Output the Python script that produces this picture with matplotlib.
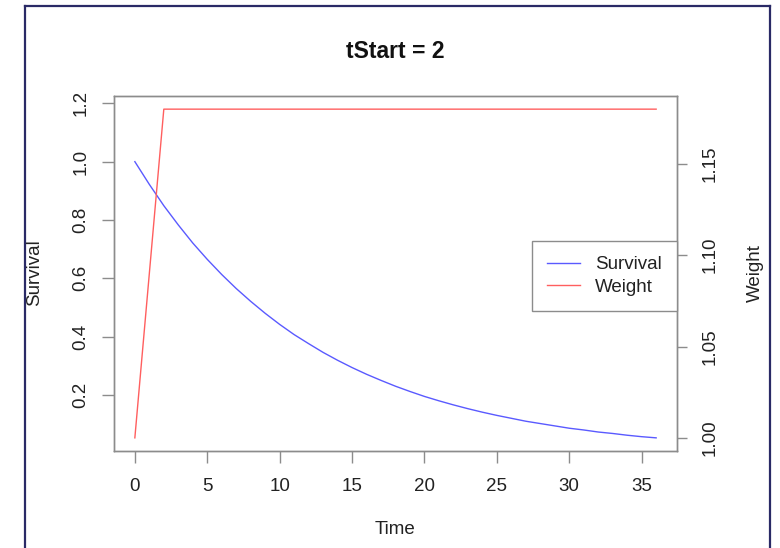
import matplotlib
matplotlib.use("Agg")
import matplotlib.pyplot as plt
from matplotlib.lines import Line2D

plt.rcParams['font.family'] = ['Liberation Sans', 'DejaVu Sans']

time = list(range(0, 37))
survival = [1.000, 0.922, 0.849, 0.783, 0.721, 0.665, 0.613, 0.565, 0.521, 0.480,
            0.442, 0.407, 0.376, 0.346, 0.319, 0.294, 0.271, 0.250, 0.230, 0.212,
            0.195, 0.180, 0.166, 0.153, 0.141, 0.130, 0.120, 0.110, 0.102, 0.094,
            0.086, 0.080, 0.073, 0.068, 0.062, 0.057, 0.053]
weight_time = [0, 1, 2, 36]
weight = [1.000, 1.090, 1.180, 1.180]

title = "tStart = 2"
xlabel = "Time"
ylabel_left = "Survival"
ylabel_right = "Weight"
xticks = [0, 5, 10, 15, 20, 25, 30, 35]
yticks_left = [0.2, 0.4, 0.6, 0.8, 1.0, 1.2]
yticks_right = [1.00, 1.05, 1.10, 1.15]

W, H = 780, 548
FS = 13.5
fig = plt.figure(figsize=(W / 100, H / 100), dpi=100)

def fx(px):
    return px / W

def fy(py):
    return 1 - py / H

ax = fig.add_axes([fx(114), fy(451), fx(677) - fx(114), fy(96) - fy(451)])
ax.plot(time, survival, color='#5a5aff', lw=1.0, label=ylabel_left)

def rpad(lo, hi):
    d = hi - lo
    return lo - 0.04 * d, hi + 0.04 * d

ax.set_xlim(*rpad(min(time), max(time)))
ax.set_ylim(*rpad(min(survival), max(weight)))
ax.set_xticks(xticks)
ax.set_xticklabels([str(t) for t in xticks])
ax.set_yticks(yticks_left)
ax.set_yticklabels([f"{v:.1f}" for v in yticks_left])

ax2 = ax.twinx()
ax2.plot(weight_time, weight, color='#ff5f5f', lw=1.0, label=ylabel_right)
ax2.set_ylim(*rpad(min(weight), max(weight)))
ax2.set_yticks(yticks_right)
ax2.set_yticklabels([f"{v:.2f}" for v in yticks_right])

for a in (ax, ax2):
    for s in a.spines.values():
        s.set_color('#8c8c8c')
        s.set_linewidth(1.0)

ax.tick_params(axis='x', length=8.5, width=1, color='#8c8c8c', pad=11,
               labelsize=FS, labelcolor='#222222')
ax.tick_params(axis='y', length=9, width=1, color='#8c8c8c', pad=8.5,
               labelsize=FS, labelcolor='#222222')
ax2.tick_params(axis='y', length=7.5, width=1, color='#8c8c8c', pad=10.5,
                labelsize=FS, labelcolor='#222222')
for lbl in ax.get_yticklabels():
    lbl.set_rotation(90)
    lbl.set_va('center')
for lbl in ax2.get_yticklabels():
    lbl.set_rotation(90)
    lbl.set_va('center')

fig.text(fx(395), fy(51), title, ha='center', va='center', fontsize=16.5,
         fontweight='bold', color='#111111')
fig.text(fx(395), fy(530), xlabel, ha='center', va='center', fontsize=FS,
         color='#222222')
fig.text(fx(35), fy(273), ylabel_left, ha='center', va='center', fontsize=FS,
         rotation=90, color='#222222')
fig.text(fx(755), fy(273), ylabel_right, ha='center', va='center', fontsize=FS,
         rotation=90, color='#222222')

h1, l1 = ax.get_legend_handles_labels()
h2, l2 = ax2.get_legend_handles_labels()
leg = ax2.legend(h1 + h2, l1 + l2, loc='upper right',
                 bbox_to_anchor=(fx(677), fy(241)), bbox_transform=fig.transFigure,
                 borderaxespad=0, fancybox=False, framealpha=1,
                 edgecolor='#8c8c8c', fontsize=FS, handlelength=1.8,
                 handletextpad=0.8, borderpad=0.8, labelspacing=0.3)
leg.get_frame().set_linewidth(1.0)
for t in leg.get_texts():
    t.set_color('#222222')

frame_color = '#2a2a66'
fig.add_artist(Line2D([fx(25), fx(25)], [fy(6), 0], color=frame_color, lw=1.6))
fig.add_artist(Line2D([fx(25), fx(770)], [fy(6), fy(6)], color=frame_color, lw=1.6))
fig.add_artist(Line2D([fx(770), fx(770)], [fy(6), 0], color=frame_color, lw=1.6))

fig.savefig("out.png", dpi=100)
